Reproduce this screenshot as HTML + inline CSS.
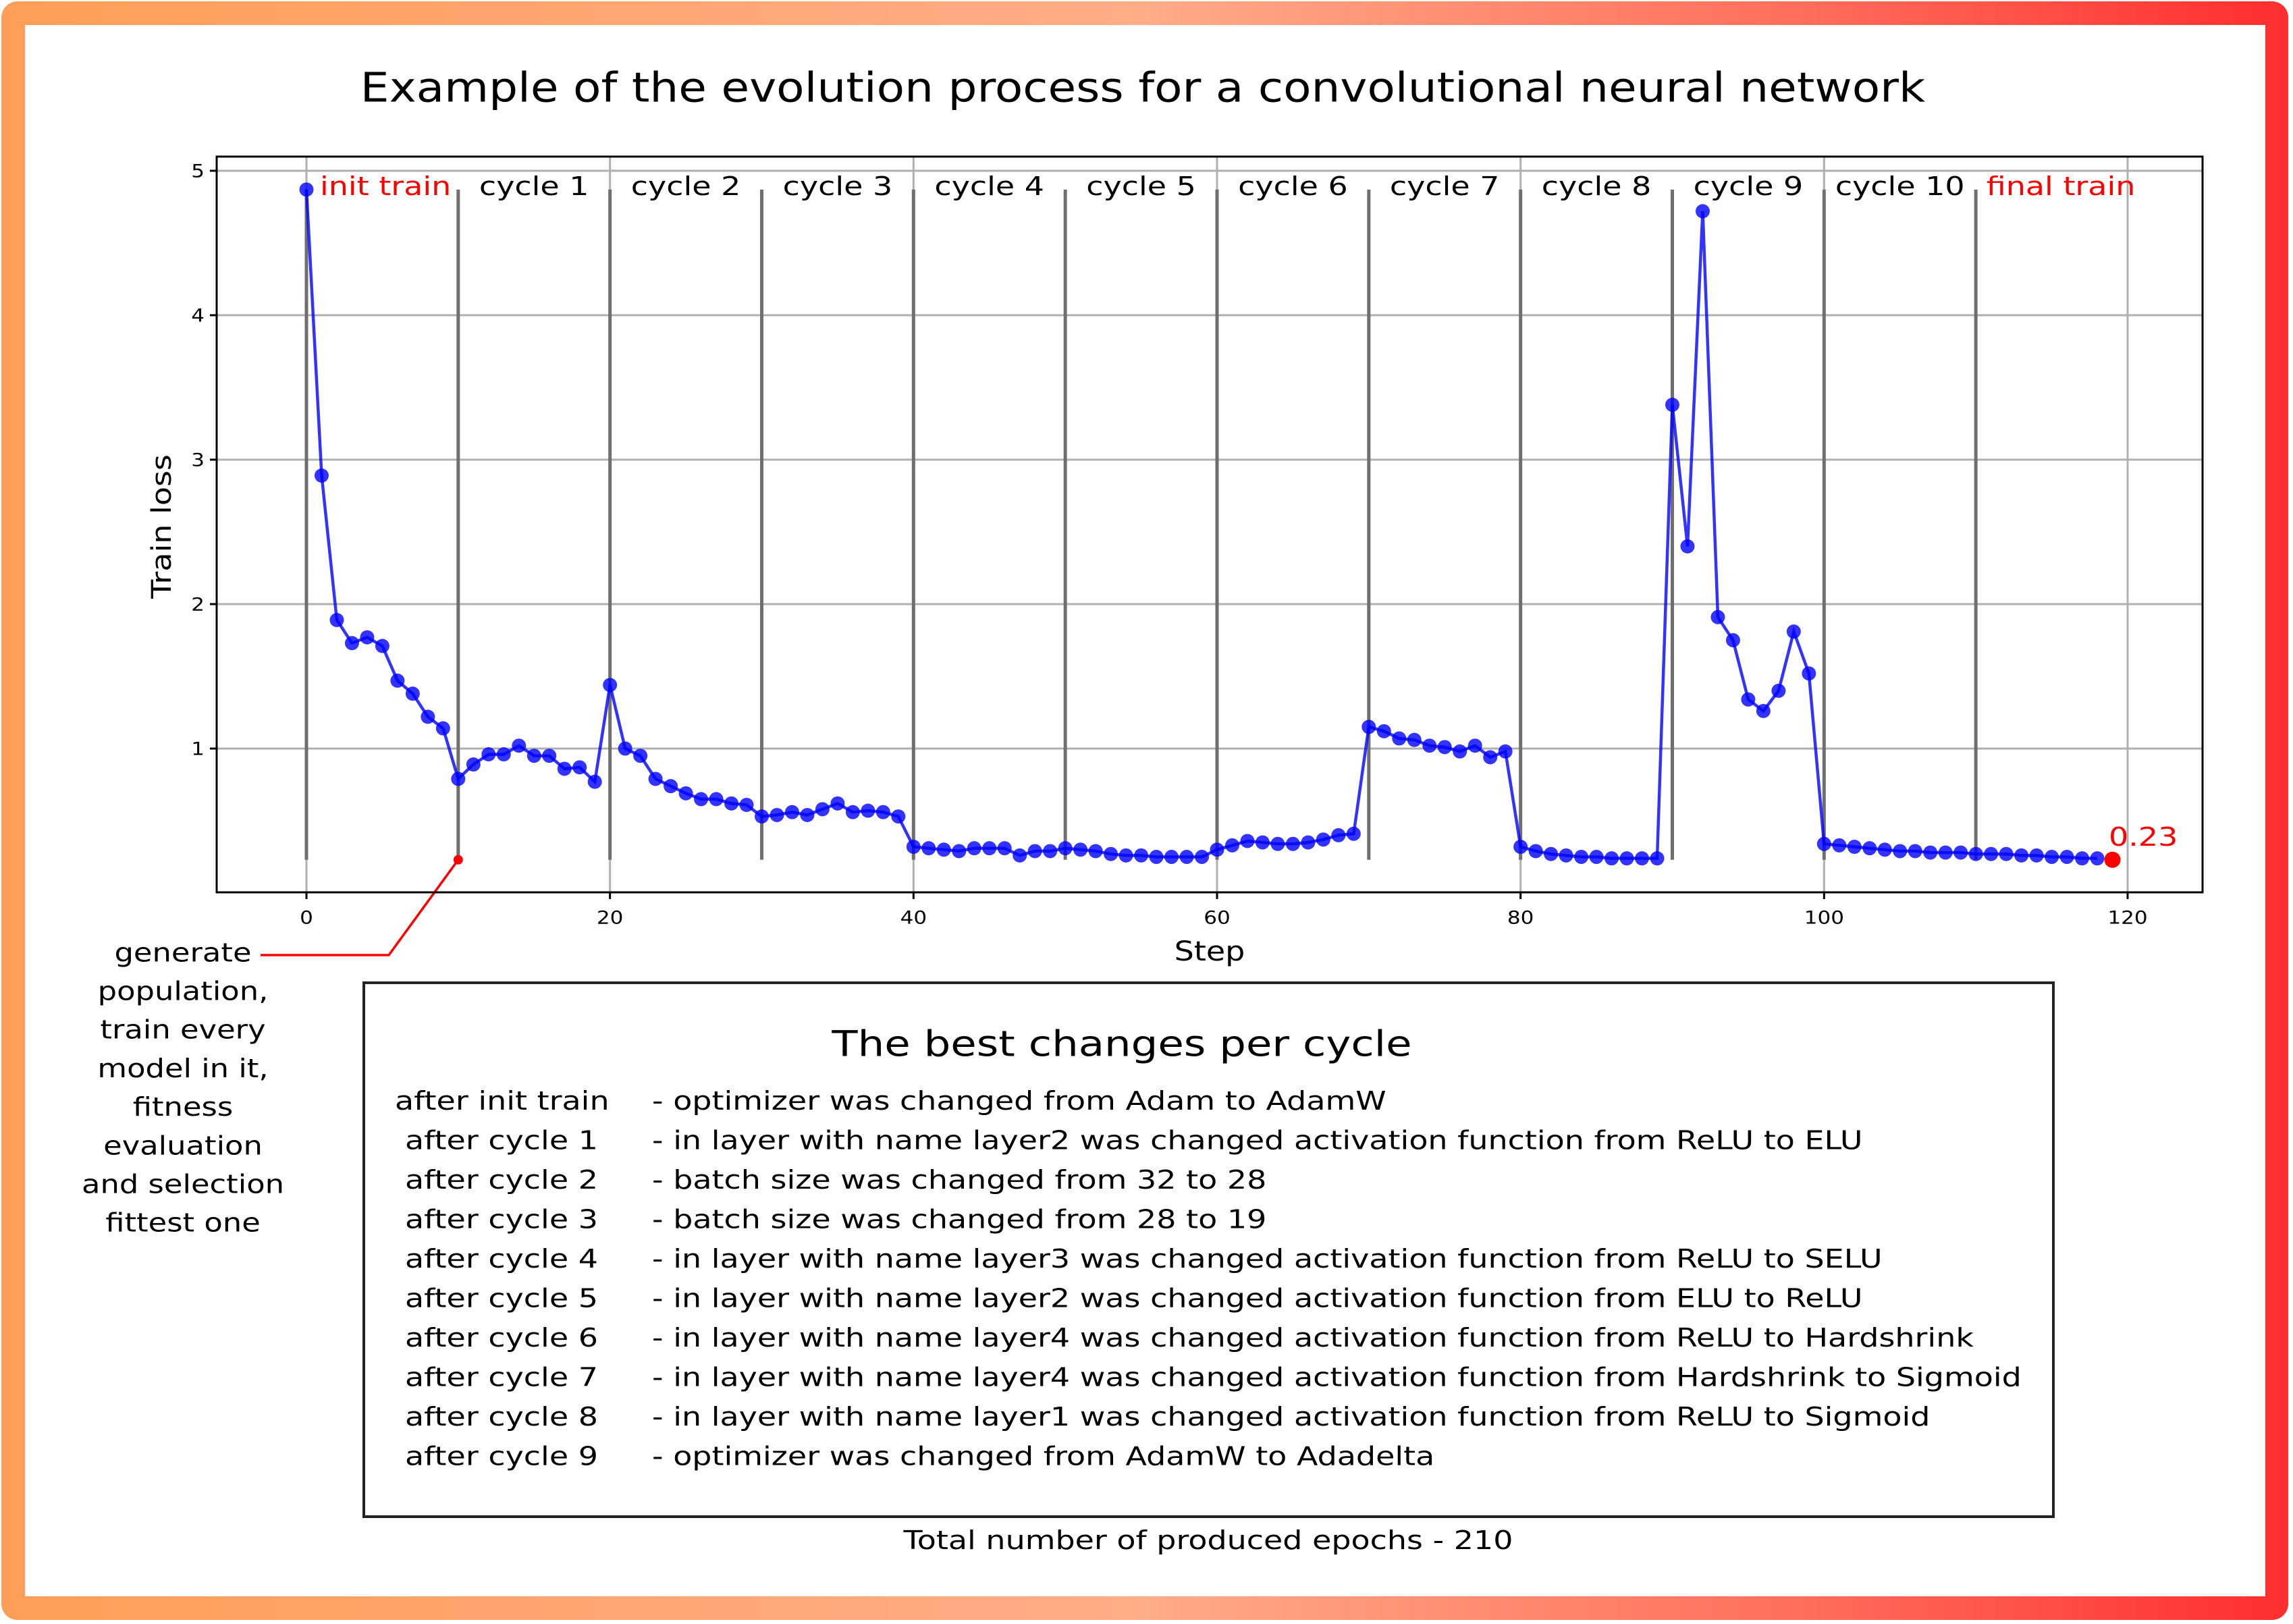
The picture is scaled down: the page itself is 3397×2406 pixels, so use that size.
<!DOCTYPE html>
<html><head><meta charset="utf-8">
<style>
html,body{margin:0;padding:0;background:#fff;}
svg{display:block;}
text{font-family:"DejaVu Sans","Liberation Sans",sans-serif;}
</style></head>
<body>
<svg id="fig" width="3397" height="2406" viewBox="0 0 3397 2406" xmlns="http://www.w3.org/2000/svg">
<defs>
<linearGradient id="bg" x1="0" y1="0" x2="1" y2="0">
<stop offset="0" stop-color="#ff9e58"/>
<stop offset="0.5" stop-color="#ffac88"/>
<stop offset="0.8" stop-color="#ff6a5a"/>
<stop offset="1" stop-color="#ff2e2e"/>
</linearGradient>
</defs>
<rect x="2" y="2" width="3388" height="2398" rx="24" fill="url(#bg)"/>
<rect x="37" y="37" width="3319" height="2328" fill="#fff"/>
<g id="plot"></g>
<g id="texts"></g>
</svg>
<script>
const steps = [];
const trainLoss = [4.87,2.89,1.89,1.73,1.77,1.71,1.47,1.38,1.22,1.14,
0.79,0.89,0.96,0.96,1.02,0.95,0.95,0.86,0.87,0.77,
1.44,1.00,0.95,0.79,0.74,0.69,0.65,0.65,0.62,0.61,
0.53,0.54,0.56,0.54,0.58,0.62,0.56,0.57,0.56,0.53,
0.32,0.31,0.30,0.29,0.31,0.31,0.31,0.26,0.29,0.29,
0.31,0.30,0.29,0.27,0.26,0.26,0.25,0.25,0.25,0.25,
0.30,0.33,0.36,0.35,0.34,0.34,0.35,0.37,0.40,0.41,
1.15,1.12,1.07,1.06,1.02,1.01,0.98,1.02,0.94,0.98,
0.32,0.29,0.27,0.26,0.25,0.25,0.24,0.24,0.24,0.24,
3.38,2.40,4.72,1.91,1.75,1.34,1.26,1.40,1.81,1.52,
0.34,0.33,0.32,0.31,0.30,0.29,0.29,0.28,0.28,0.28,
0.27,0.27,0.27,0.26,0.26,0.25,0.25,0.24,0.24];
const finalValue = 0.23;
const finalStep = 119;
const xTicks = [0,20,40,60,80,100,120];
const yTicks = [1,2,3,4,5];
const cycleLines = [0,10,20,30,40,50,60,70,80,90,100,110];
const cycleLabels = ["cycle 1","cycle 2","cycle 3","cycle 4","cycle 5","cycle 6","cycle 7","cycle 8","cycle 9","cycle 10"];
const changesLeft = ["after init train","after cycle 1","after cycle 2","after cycle 3","after cycle 4","after cycle 5","after cycle 6","after cycle 7","after cycle 8","after cycle 9"];
const changesRight = ["- optimizer was changed from Adam to AdamW",
"- in layer with name layer2 was changed activation function from ReLU to ELU",
"- batch size was changed from 32 to 28",
"- batch size was changed from 28 to 19",
"- in layer with name layer3 was changed activation function from ReLU to SELU",
"- in layer with name layer2 was changed activation function from ELU to ReLU",
"- in layer with name layer4 was changed activation function from ReLU to Hardshrink",
"- in layer with name layer4 was changed activation function from Hardshrink to Sigmoid",
"- in layer with name layer1 was changed activation function from ReLU to Sigmoid",
"- optimizer was changed from AdamW to Adadelta"];
for (let i=0;i<trainLoss.length;i++) steps.push(i);

const NS="http://www.w3.org/2000/svg";
const L=321,R=3263,T=232,B=1322;
const X0=454, XS=(3152-454)/120;
const Y0=1323, YS=214;
function sx(v){return X0+v*XS;}
function sy(v){return Y0-v*YS;}
const plot=document.getElementById('plot');
const tl=document.getElementById('texts');
function el(tag,attrs,parent){const e=document.createElementNS(NS,tag);for(const k in attrs)e.setAttribute(k,attrs[k]);parent.appendChild(e);return e;}
const KX=1.21;
function txt(str,x,y,size,opts,parent){
  opts=opts||{};
  const k=opts.kx||KX;
  const t=el('text',{'x':0,'y':0,'font-size':size,'fill':opts.fill||'#000','text-anchor':opts.anchor||'start','dominant-baseline':'central',
    'transform':'translate('+x+','+y+') '+(opts.rot?'rotate('+opts.rot+') ':'')+'scale('+k+',1)'},parent||tl);
  t.textContent=str;return t;
}
xTicks.forEach(v=>{const g=el('line',{x1:sx(v),x2:sx(v),y1:T,y2:B,stroke:'#b0b0b0','stroke-width':3},plot);
});
yTicks.forEach(v=>{const g=el('line',{x1:L,x2:R,y1:sy(v),y2:sy(v),stroke:'#b0b0b0','stroke-width':3},plot);
});
cycleLines.forEach(v=>{const c=el('line',{x1:sx(v),x2:sx(v),y1:sy(4.87),y2:sy(0.23),stroke:'#6f6f6f','stroke-width':5},plot);
});
let d='';steps.forEach((s,i)=>{d+=(i?'L':'M')+sx(s).toFixed(1)+' '+sy(trainLoss[i]).toFixed(1);});
const ln=el('path',{d:d,fill:'none',stroke:'#0000ff','stroke-opacity':0.8,'stroke-width':4.5},plot);

steps.forEach((s,i)=>{const m=el('circle',{cx:sx(s),cy:sy(trainLoss[i]),r:10.5,fill:'#0000ff','fill-opacity':0.8},plot);
});
const fp=el('circle',{cx:sx(finalStep),cy:sy(finalValue),r:12,fill:'#ff0000'},plot);

const adot=el('circle',{cx:sx(10),cy:sy(0.23),r:7,fill:'#ff0000'},plot);

const aln=el('polyline',{points:sx(10)+','+sy(0.23)+' 576,1415 386,1415',fill:'none',stroke:'#ff0000','stroke-width':3.5},plot);

const sp=el('rect',{x:L,y:T,width:R-L,height:B-T,fill:'none',stroke:'#000','stroke-width':3},plot);

xTicks.forEach(v=>{const k=el('line',{x1:sx(v),x2:sx(v),y1:B,y2:B+10,stroke:'#000','stroke-width':3},plot);

const t=txt(String(v),sx(v),1359,27,{anchor:'middle',kx:1.15});
});
yTicks.forEach(v=>{const k=el('line',{x1:L-10,x2:L,y1:sy(v),y2:sy(v),stroke:'#000','stroke-width':3},plot);

const t=txt(String(v),L-18,sy(v),27,{anchor:'end',kx:1.15});
});
let t;
t=txt('init train',474,276,38,{fill:'#ff0000'});
cycleLabels.forEach((c,i)=>{const e=txt(c,sx(10*(i+1)+5),276,38,{anchor:'middle'});
});
t=txt('final train',sx(115.6),276,38,{fill:'#ff0000',anchor:'middle'});
t=txt('0.23',3124,1240,38,{fill:'#ff0000'});
t=txt('Example of the evolution process for a convolutional neural network',1693,130,61,{anchor:'middle',kx:1.11});
t=txt('Step',1792,1410,40,{anchor:'middle',kx:1.15});
t=txt('Train loss',240,780,40,{anchor:'middle',rot:-90,kx:1.15});
const ann=['generate','population,','train every','model in it,','fitness','evaluation','and selection','fittest one'];
ann.forEach((s,i)=>{const e=txt(s,271,1411+i*57.2,38,{anchor:'middle',kx:1.18});
});
const bx=el('rect',{x:539,y:1456,width:2503,height:791,fill:'#fff',stroke:'#222','stroke-width':4},plot);

t=txt('The best changes per cycle',1662,1546,53,{anchor:'middle',kx:1.18});
changesLeft.forEach((s,i)=>{const e=txt(s,i===0?585:600,1631+i*58.5,38);
});
changesRight.forEach((s,i)=>{const e=txt(s,966,1631+i*58.5,38);
});
t=txt('Total number of produced epochs - 210',1790,2282,38,{anchor:'middle'});
</script>
</body></html>
